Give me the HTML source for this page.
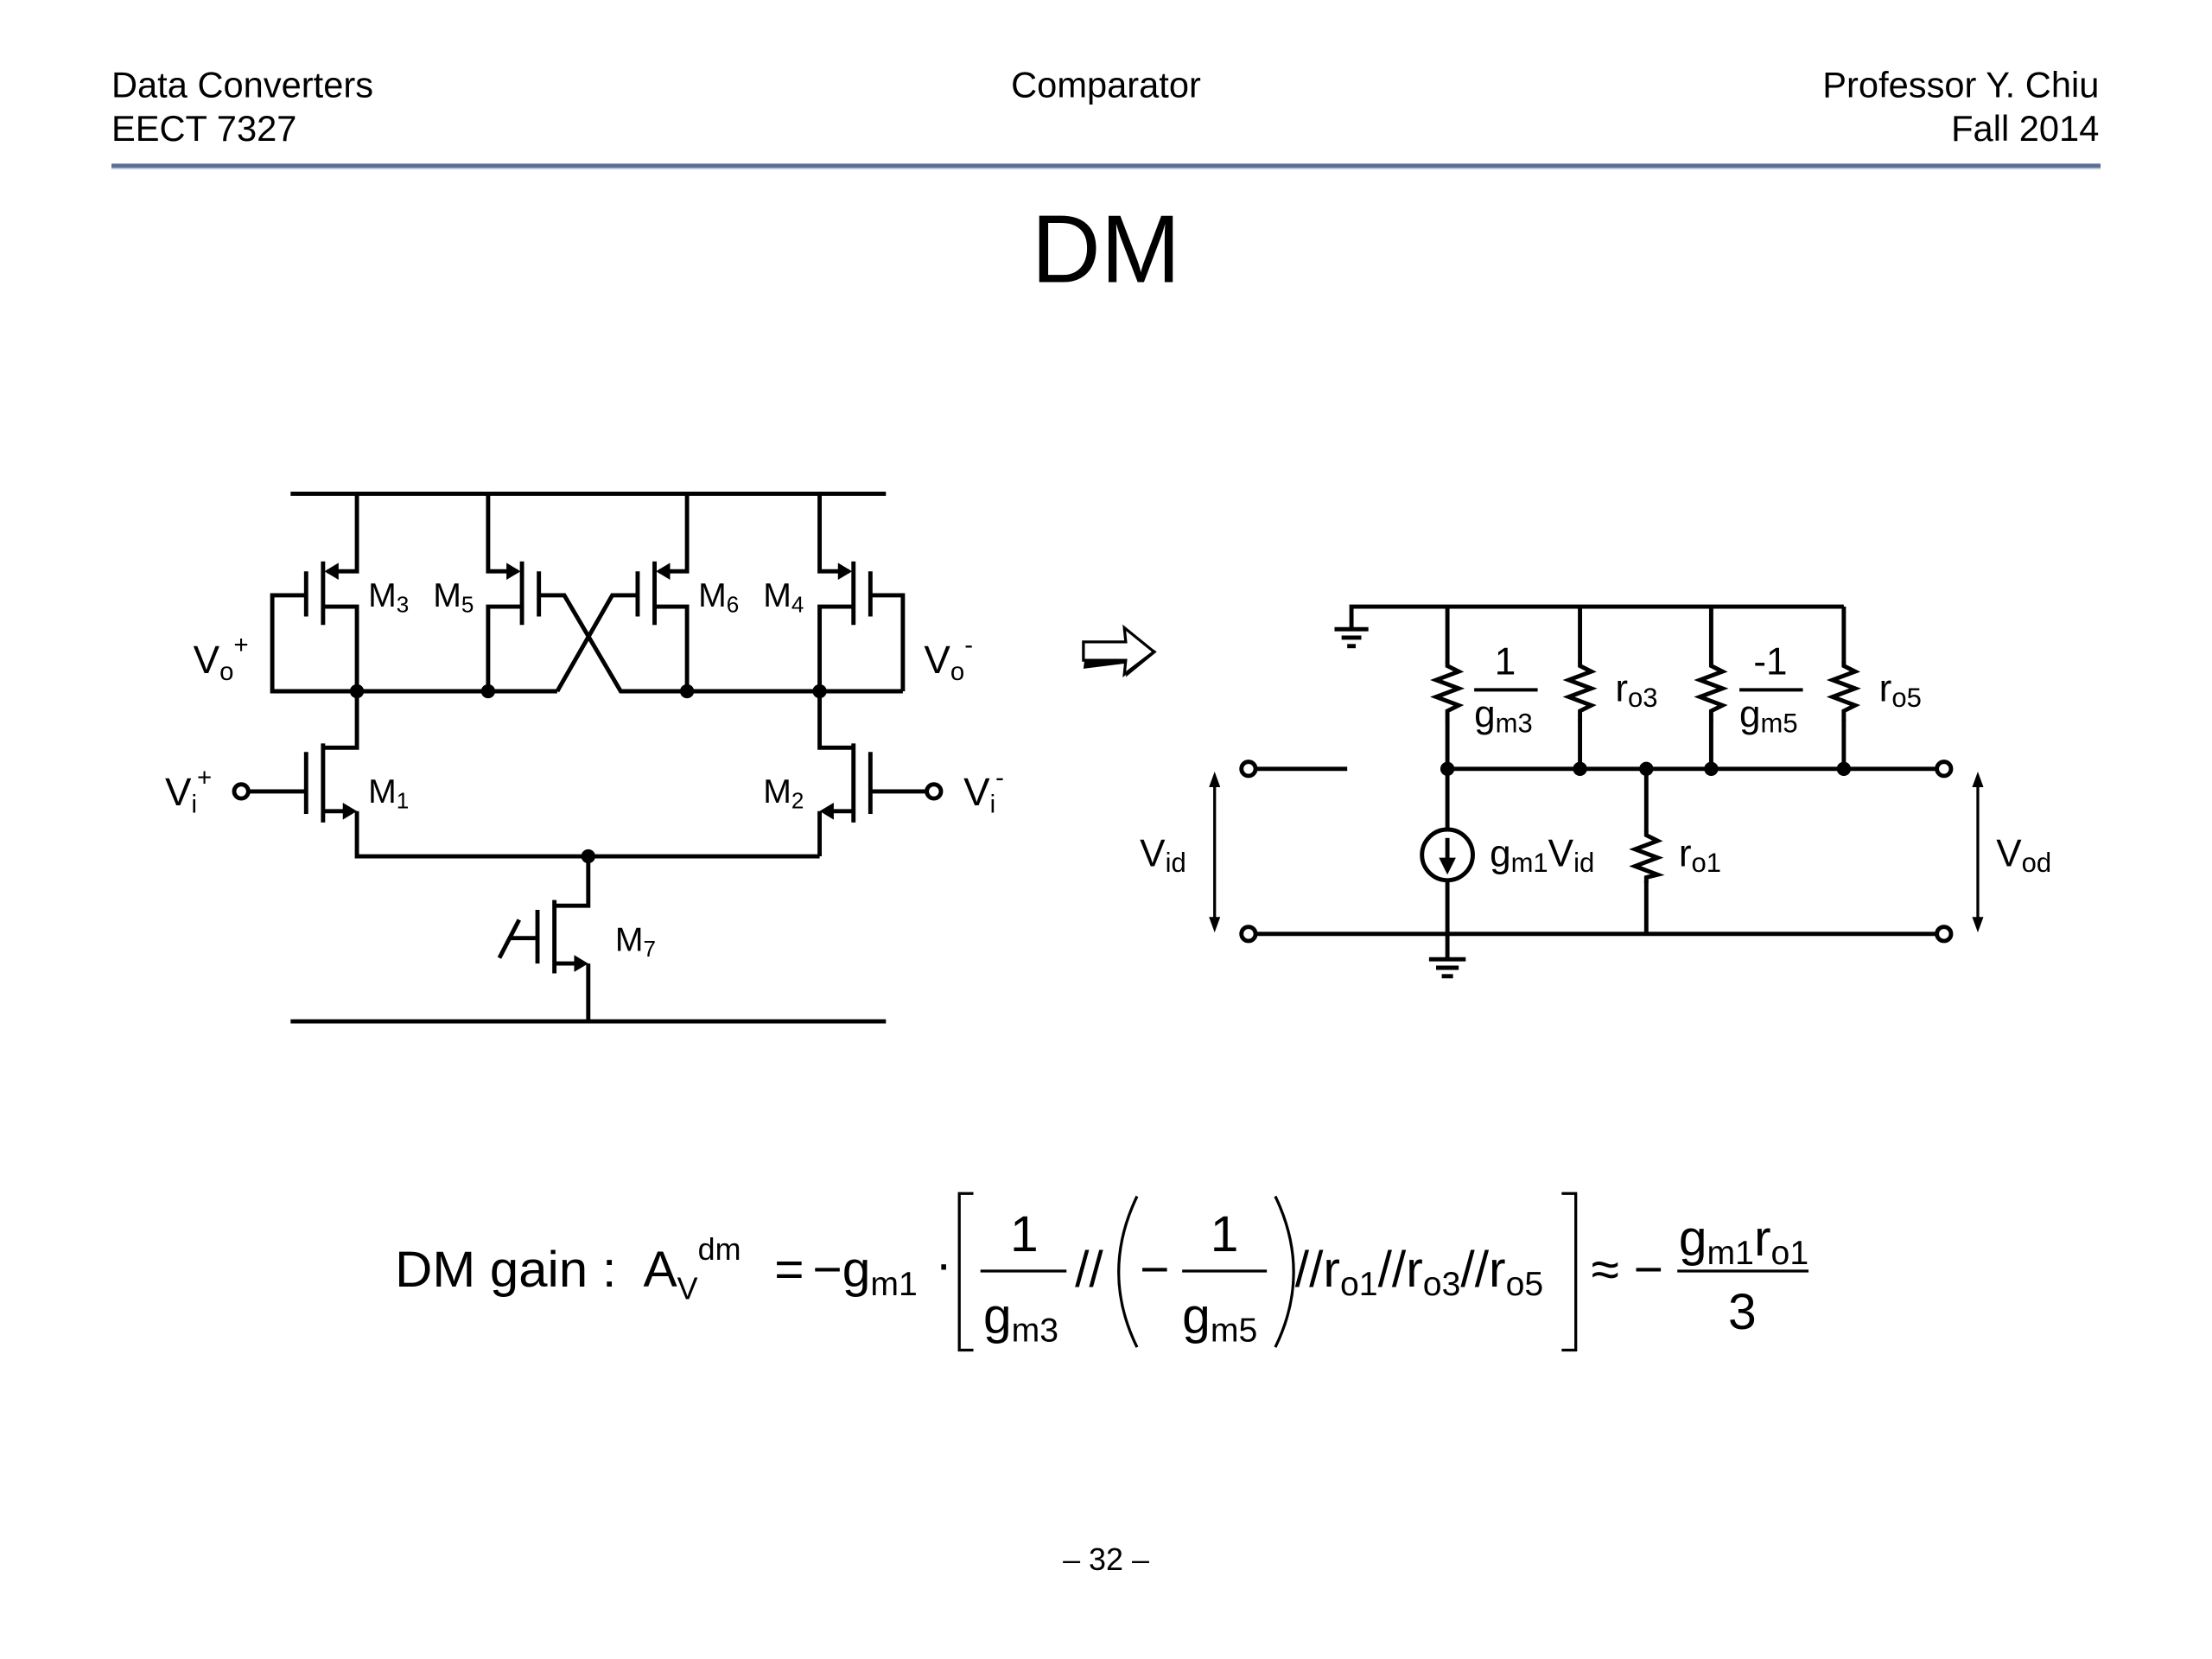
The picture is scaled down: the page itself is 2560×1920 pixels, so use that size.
<!DOCTYPE html>
<html><head><meta charset="utf-8"><style>
html,body{margin:0;padding:0;background:#fff;}
svg{display:block;}
text{font-family:"Liberation Sans",Arial,sans-serif;fill:#000;}
</style></head><body>
<svg width="2560" height="1920" viewBox="0 0 1568 1176" xmlns="http://www.w3.org/2000/svg">
<!-- header -->
<text x="79" y="69" font-size="25.5">Data Converters</text>
<text x="79" y="100" font-size="25.5">EECT 7327</text>
<text x="784" y="69" font-size="25.5" text-anchor="middle">Comparator</text>
<text x="1488" y="69" font-size="25.5" text-anchor="end">Professor Y. Chiu</text>
<text x="1488" y="100" font-size="25.5" text-anchor="end">Fall 2014</text>
<line x1="79" y1="117.5" x2="1489" y2="117.5" stroke="#5a6f96" stroke-width="3"/>
<line x1="79" y1="119.5" x2="1489" y2="119.5" stroke="#b7c2d8" stroke-width="1"/>
<text x="784" y="200" font-size="68" text-anchor="middle">DM</text>

<!-- left circuit -->
<g stroke="#000" stroke-width="3" fill="none">
<line x1="206" y1="350" x2="628" y2="350"/>
<line x1="206" y1="724" x2="628" y2="724"/>
<polyline points="253,350 253,405 232,405"/>
<line x1="229" y1="398" x2="229" y2="443"/>
<line x1="217" y1="405" x2="217" y2="437"/>
<polyline points="229,430 253,430 253,490"/>
<polyline points="217,422 193,422 193,490 395,490"/>
<polyline points="346,350 346,405 367,405"/>
<line x1="370" y1="398" x2="370" y2="443"/>
<line x1="382" y1="405" x2="382" y2="437"/>
<polyline points="370,430 346,430 346,490"/>
<polyline points="382,422 400,422 440,490 640,490"/>
<polyline points="487,350 487,405 467,405"/>
<line x1="464" y1="398" x2="464" y2="443"/>
<line x1="452" y1="405" x2="452" y2="437"/>
<polyline points="464,430 487,430 487,490"/>
<polyline points="452,422 434,422 395,490"/>
<polyline points="581,350 581,405 602,405"/>
<line x1="605" y1="398" x2="605" y2="443"/>
<line x1="617" y1="405" x2="617" y2="437"/>
<polyline points="605,430 581,430 581,490"/>
<polyline points="617,422 640,422 640,490"/>
<polyline points="253,490 253,530 229,530"/>
<line x1="229" y1="527" x2="229" y2="583"/>
<line x1="217" y1="533" x2="217" y2="577"/>
<line x1="217" y1="561" x2="177" y2="561"/>
<polyline points="229,575 250,575"/>
<polyline points="253,575 253,607 581,607"/>
<polyline points="581,490 581,530 605,530"/>
<line x1="605" y1="527" x2="605" y2="583"/>
<line x1="617" y1="533" x2="617" y2="577"/>
<line x1="617" y1="561" x2="656" y2="561"/>
<polyline points="605,575 584,575"/>
<line x1="581" y1="575" x2="581" y2="607"/>
<polyline points="417,607 417,642 393,642"/>
<line x1="393" y1="638" x2="393" y2="690"/>
<line x1="381" y1="645" x2="381" y2="683"/>
<line x1="381" y1="665" x2="362" y2="665"/>
<line x1="354" y1="679" x2="368" y2="652"/>
<line x1="393" y1="683" x2="414" y2="683"/>
<line x1="417" y1="683" x2="417" y2="724"/>
<circle cx="171" cy="561" r="5" fill="#fff"/>
<circle cx="662" cy="561" r="5" fill="#fff"/>
</g>
<g fill="#000">
<polygon points="230,405 240,399 240,411"/>
<polygon points="369,405 359,399 359,411"/>
<polygon points="465,405 475,399 475,411"/>
<polygon points="604,405 594,399 594,411"/>
<polygon points="253,575 243,569 243,581"/>
<polygon points="581,575 591,569 591,581"/>
<polygon points="417,683 407,677 407,689"/>
<circle cx="253" cy="490" r="5"/><circle cx="346" cy="490" r="5"/>
<circle cx="487" cy="490" r="5"/><circle cx="581" cy="490" r="5"/>
<circle cx="417" cy="607" r="5"/>
</g>
<g font-size="24">
<text x="261" y="430">M<tspan font-size="16" dy="4">3</tspan></text>
<text x="307" y="430">M<tspan font-size="16" dy="4">5</tspan></text>
<text x="495" y="430">M<tspan font-size="16" dy="4">6</tspan></text>
<text x="541" y="430">M<tspan font-size="16" dy="4">4</tspan></text>
<text x="261" y="569">M<tspan font-size="16" dy="4">1</tspan></text>
<text x="541" y="569">M<tspan font-size="16" dy="4">2</tspan></text>
<text x="436" y="674">M<tspan font-size="16" dy="4">7</tspan></text>
</g>
<g font-size="28">
<text x="137" y="477">V<tspan font-size="18" dy="5">o</tspan><tspan font-size="18" dy="-19">+</tspan></text>
<text x="655" y="477">V<tspan font-size="18" dy="5">o</tspan><tspan font-size="18" dy="-19">-</tspan></text>
<text x="117" y="571">V<tspan font-size="18" dy="5">i</tspan><tspan font-size="18" dy="-19">+</tspan></text>
<text x="683" y="571">V<tspan font-size="18" dy="5">i</tspan><tspan font-size="18" dy="-19">-</tspan></text>
</g>

<!-- arrow -->
<polygon points="770,458 800,458 796,446 820,462 798,480 800,470 768,474" fill="#000"/>
<polygon points="768,455 798,455 797,445 818,462 797,478 798,468 768,468" fill="#fff" stroke="#000" stroke-width="2"/>

<!-- right circuit -->
<g stroke="#000" stroke-width="3" fill="none">
<polyline points="958,446 958,430 1307,430"/>
<line x1="946" y1="446" x2="970" y2="446"/>
<line x1="951" y1="452" x2="965" y2="452"/>
<line x1="955" y1="458" x2="961" y2="458"/>
<line x1="1026" y1="430" x2="1026" y2="588"/>
<line x1="1120" y1="430" x2="1120" y2="545"/>
<line x1="1213" y1="430" x2="1213" y2="545"/>
<line x1="1307" y1="430" x2="1307" y2="545"/>
<line x1="1026" y1="545" x2="1372" y2="545"/>
<line x1="891" y1="545" x2="955" y2="545"/>
<line x1="891" y1="662" x2="1372" y2="662"/>
<line x1="1167" y1="545" x2="1167" y2="662"/>
<line x1="1026" y1="624" x2="1026" y2="680"/>
<line x1="1013" y1="680" x2="1039" y2="680"/>
<line x1="1018" y1="686" x2="1034" y2="686"/>
<line x1="1022" y1="692" x2="1030" y2="692"/>
<circle cx="1026" cy="606" r="18"/>
<circle cx="885" cy="545" r="5" fill="#fff"/>
<circle cx="885" cy="662" r="5" fill="#fff"/>
<circle cx="1378" cy="545" r="5" fill="#fff"/>
<circle cx="1378" cy="662" r="5" fill="#fff"/>
</g>
<g stroke="#fff" stroke-width="5">
<line x1="1026" y1="470" x2="1026" y2="510"/><line x1="1120" y1="470" x2="1120" y2="510"/>
<line x1="1213" y1="470" x2="1213" y2="510"/><line x1="1307" y1="470" x2="1307" y2="510"/>
<line x1="1167" y1="590" x2="1167" y2="624"/>
</g>
<g stroke="#000" stroke-width="3" fill="none">
<polyline points="1026,469 1026,472 1034,476 1018,482 1034,488 1018,494 1034,500 1026,504 1026,511"/>
<polyline points="1120,469 1120,472 1128,476 1112,482 1128,488 1112,494 1128,500 1120,504 1120,511"/>
<polyline points="1213,469 1213,472 1221,476 1205,482 1221,488 1205,494 1221,500 1213,504 1213,511"/>
<polyline points="1307,469 1307,472 1315,476 1299,482 1315,488 1299,494 1315,500 1307,504 1307,511"/>
<polyline points="1167,589 1167,592 1175,596 1159,602 1175,608 1159,614 1175,620 1167,622 1167,626"/>
<line x1="1026" y1="594" x2="1026" y2="612"/>
<line x1="861" y1="556" x2="861" y2="652" stroke-width="2"/>
<line x1="1402" y1="556" x2="1402" y2="652" stroke-width="2"/>
<line x1="1045" y1="489" x2="1090" y2="489" stroke-width="2.5"/>
<line x1="1233" y1="489" x2="1278" y2="489" stroke-width="2.5"/>
</g>
<g fill="#000">
<polygon points="1026,620 1020,608 1032,608"/>
<polygon points="861,547 857,558 865,558"/><polygon points="861,661 857,650 865,650"/>
<polygon points="1402,547 1398,558 1406,558"/><polygon points="1402,661 1398,650 1406,650"/>
<circle cx="1026" cy="545" r="5"/><circle cx="1120" cy="545" r="5"/><circle cx="1167" cy="545" r="5"/>
<circle cx="1213" cy="545" r="5"/><circle cx="1307" cy="545" r="5"/>
</g>
<g font-size="27">
<text x="1067" y="478" text-anchor="middle">1</text>
<text x="1045" y="515">g<tspan font-size="19" dy="4">m3</tspan></text>
<text x="1255" y="478" text-anchor="middle">-1</text>
<text x="1233" y="515">g<tspan font-size="19" dy="4">m5</tspan></text>
<text x="1145" y="497">r<tspan font-size="19" dy="4">o3</tspan></text>
<text x="1332" y="497">r<tspan font-size="19" dy="4">o5</tspan></text>
<text x="1056" y="614">g<tspan font-size="19" dy="4">m1</tspan><tspan dy="-4">V</tspan><tspan font-size="19" dy="4">id</tspan></text>
<text x="1190" y="614">r<tspan font-size="19" dy="4">o1</tspan></text>
<text x="808" y="614">V<tspan font-size="19" dy="4">id</tspan></text>
<text x="1415" y="614">V<tspan font-size="19" dy="4">od</tspan></text>
</g>

<!-- equation -->
<g font-size="36">
<text x="280" y="912" textLength="157" lengthAdjust="spacingAndGlyphs">DM gain :</text>
<text x="456" y="912">A<tspan font-size="22" dy="9">V</tspan><tspan font-size="22" dy="-28">dm</tspan></text>
<text x="549" y="912">=</text>
<text x="576" y="912">−g<tspan font-size="24" dy="6">m1</tspan></text>
<text x="663" y="908">·</text>
<text x="726" y="887" text-anchor="middle">1</text>
<text x="697" y="945">g<tspan font-size="24" dy="6">m3</tspan></text>
<text x="762" y="912">//</text>
<text x="808" y="912">−</text>
<text x="868" y="887" text-anchor="middle">1</text>
<text x="838" y="945">g<tspan font-size="24" dy="6">m5</tspan></text>
<text x="918" y="912">//r<tspan font-size="24" dy="6">o1</tspan><tspan dy="-6">//r</tspan><tspan font-size="24" dy="6">o3</tspan><tspan dy="-6">//r</tspan><tspan font-size="24" dy="6">o5</tspan></text>
<text x="1128" y="912">≈</text>
<text x="1158" y="912">−</text>
<text x="1190" y="890">g<tspan font-size="24" dy="6">m1</tspan><tspan dy="-6">r</tspan><tspan font-size="24" dy="6">o1</tspan></text>
<text x="1235" y="942" text-anchor="middle">3</text>
</g>
<g stroke="#000" stroke-width="2" fill="none">
<line x1="695" y1="901" x2="756" y2="901"/>
<line x1="838" y1="901" x2="898" y2="901"/>
<line x1="1189" y1="901" x2="1282" y2="901"/>
<polyline points="690,846 680,846 680,957 690,957"/>
<polyline points="1107,846 1117,846 1117,957 1107,957"/>
<path d="M806,848 Q780,902 806,955"/>
<path d="M904,848 Q930,902 904,955"/>
</g>
<text x="784" y="1113" font-size="22" text-anchor="middle">– 32 –</text>
</svg>
</body></html>
